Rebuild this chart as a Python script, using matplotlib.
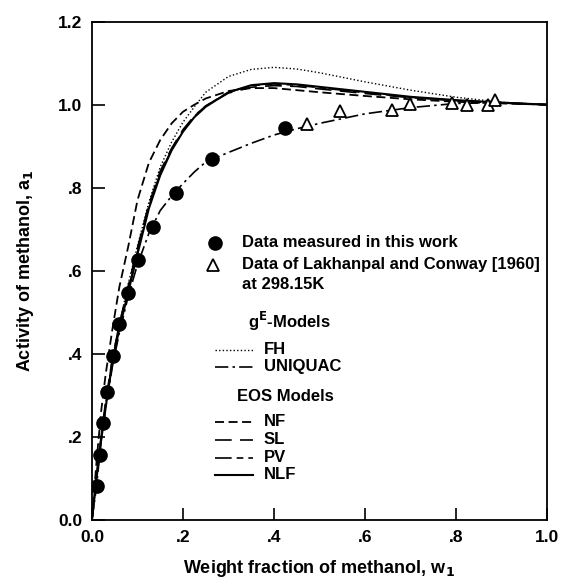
import matplotlib
matplotlib.use("Agg")
import matplotlib.pyplot as plt

plt.rcParams['font.family'] = ['Liberation Sans', 'DejaVu Sans']

# measured data (this work)
w_meas = [0.011, 0.018, 0.024, 0.034, 0.046, 0.059, 0.079, 0.101, 0.134, 0.185, 0.264, 0.424]
a_meas = [0.082, 0.157, 0.234, 0.308, 0.395, 0.472, 0.546, 0.625, 0.705, 0.787, 0.869, 0.945]

# Lakhanpal and Conway [1960]
w_lit = [0.473, 0.545, 0.659, 0.699, 0.791, 0.824, 0.870, 0.886]
a_lit = [0.954, 0.986, 0.988, 1.002, 1.005, 1.000, 1.000, 1.012]

# model curves
w_grid = [0.0, 0.01, 0.02, 0.03, 0.045, 0.06, 0.08, 0.1, 0.125, 0.15, 0.175, 0.2,
          0.225, 0.25, 0.3, 0.35, 0.4, 0.45, 0.5, 0.6, 0.7, 0.8, 0.9, 1.0]
a_fh = [0.0, 0.10, 0.19, 0.28, 0.39, 0.47, 0.57, 0.66, 0.765, 0.85, 0.91, 0.958,
        0.995, 1.03, 1.068, 1.085, 1.09, 1.086, 1.077, 1.055, 1.035, 1.018, 1.006, 1.0]
a_uniquac = [0.0, 0.08, 0.19, 0.27, 0.37, 0.45, 0.54, 0.615, 0.69, 0.745, 0.78, 0.81,
             0.838, 0.862, 0.885, 0.907, 0.927, 0.942, 0.955, 0.978, 0.993, 1.003, 1.005, 1.0]
a_nf = [0.0, 0.14, 0.26, 0.35, 0.46, 0.56, 0.66, 0.77, 0.86, 0.915, 0.955, 0.983,
        1.0, 1.015, 1.033, 1.04, 1.04, 1.035, 1.03, 1.021, 1.013, 1.007, 1.003, 1.0]
a_sl = [0.0, 0.11, 0.20, 0.285, 0.39, 0.47, 0.565, 0.655, 0.76, 0.84, 0.895, 0.94,
        0.973, 0.997, 1.028, 1.042, 1.046, 1.044, 1.038, 1.027, 1.017, 1.01, 1.004, 1.0]
a_pv = [0.0, 0.105, 0.195, 0.275, 0.385, 0.465, 0.555, 0.645, 0.755, 0.835, 0.892, 0.937,
        0.972, 0.997, 1.03, 1.046, 1.05, 1.047, 1.041, 1.029, 1.018, 1.01, 1.004, 1.0]
a_nlf = [0.0, 0.10, 0.19, 0.27, 0.38, 0.46, 0.55, 0.64, 0.75, 0.83, 0.89, 0.935,
         0.97, 0.995, 1.03, 1.047, 1.052, 1.049, 1.043, 1.031, 1.019, 1.011, 1.005, 1.0]

styles = {
    'FH': dict(ls=(0, (1, 1.6)), lw=1.0),
    'UNIQUAC': dict(ls=(0, (8, 2.5, 1.5, 2.5)), lw=1.2),
    'NF': dict(ls=(0, (5, 2.5)), lw=1.3),
    'SL': dict(ls=(0, (10, 5)), lw=1.2),
    'PV': dict(ls=(0, (10, 3, 4, 3)), lw=1.2),
    'NLF': dict(ls='-', lw=1.5),
}
curves = {'FH': a_fh, 'UNIQUAC': a_uniquac, 'NF': a_nf, 'SL': a_sl, 'PV': a_pv, 'NLF': a_nlf}

fig = plt.figure(figsize=(5.66, 5.86), dpi=100)
ax = fig.add_axes([0.1625, 0.113, 0.804, 0.85])

for name, vals in curves.items():
    ax.plot(w_grid, vals, color='black', **styles[name])

ax.plot(w_meas, a_meas, 'o', color='black', ms=9.5, zorder=5)
ax.plot(w_lit, a_lit, '^', mfc='white', mec='black', mew=1.3, ms=9, zorder=5)

# legend drawn by hand
fs = 12
tx = 0.33
ax.plot([0.270], [0.667], 'o', color='black', ms=9.5)
ax.text(tx, 0.667, 'Data measured in this work', fontsize=fs, fontweight='bold', va='center')
ax.plot([0.266], [0.614], '^', mfc='white', mec='black', mew=1.3, ms=9)
ax.text(tx, 0.614, 'Data of Lakhanpal and Conway [1960]', fontsize=fs, fontweight='bold', va='center')
ax.text(tx, 0.568, 'at 298.15K', fontsize=fs, fontweight='bold', va='center')
ax.text(0.343, 0.477, r'g$^{\mathbf{E}}$-Models', fontsize=fs, fontweight='bold', va='center')
ax.text(0.319, 0.296, 'EOS Models', fontsize=fs, fontweight='bold', va='center')

leg_y = {'FH': 0.41, 'UNIQUAC': 0.369, 'NF': 0.236, 'SL': 0.193, 'PV': 0.149, 'NLF': 0.108}
for name, yy in leg_y.items():
    ax.plot([0.27, 0.354], [yy, yy], color='black', **styles[name])
    ax.text(0.378, yy, name, fontsize=fs, fontweight='bold', va='center')

ax.set_xlim(0, 1.0)
ax.set_ylim(0, 1.2)
xt = [0, 0.2, 0.4, 0.6, 0.8, 1.0]
yt = [0, 0.2, 0.4, 0.6, 0.8, 1.0, 1.2]
ax.set_xticks(xt)
ax.set_xticklabels(['0.0', '.2', '.4', '.6', '.8', '1.0'])
ax.set_yticks(yt)
ax.set_yticklabels(['0.0', '.2', '.4', '.6', '.8', '1.0', '1.2'])
ax.tick_params(direction='in', length=9, width=1.2, labelsize=12.5, pad=7)
for lab in ax.get_xticklabels() + ax.get_yticklabels():
    lab.set_fontweight('bold')
for sp in ax.spines.values():
    sp.set_linewidth(1.3)

ax.set_xlabel(r'Weight fraction of methanol, w$_{\mathbf{1}}$', fontsize=13, fontweight='bold', labelpad=10)
ax.set_ylabel(r'Activity of methanol, a$_{\mathbf{1}}$', fontsize=13, fontweight='bold', labelpad=16)

fig.savefig('out.png', dpi=100)
